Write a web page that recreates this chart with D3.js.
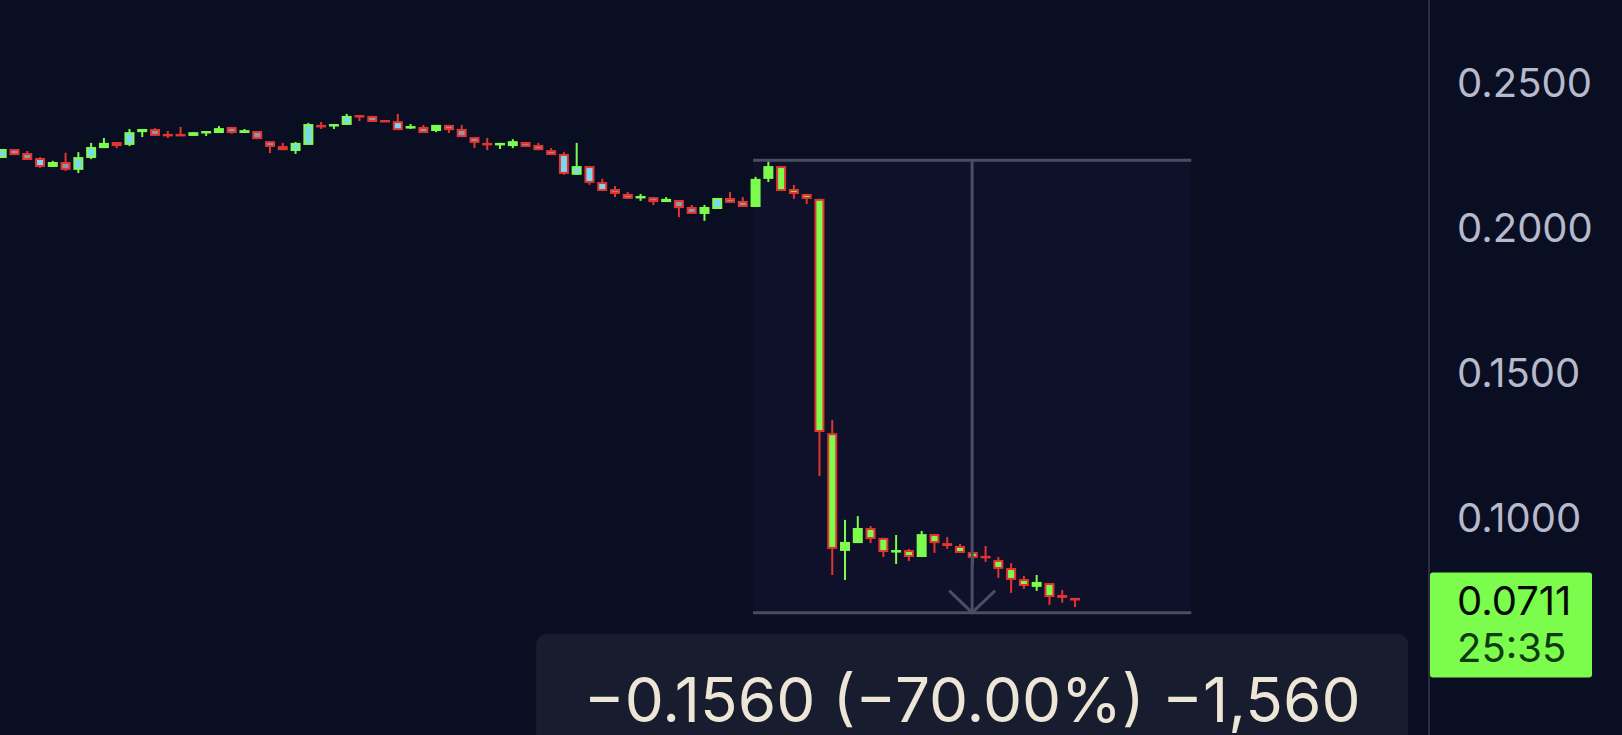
<!DOCTYPE html>
<html>
<head>
<meta charset="utf-8">
<script src="https://cdn.jsdelivr.net/npm/d3@7"></script>
<style>
  html, body { margin: 0; padding: 0; background: #0a0e22; overflow: hidden; }
</style>
</head>
<body>
<div id="chart"></div>
<script>
// candle data (price), one entry per bar
var opens = [0.2237,0.2268,0.2254,0.2237,0.2206,0.2223,0.2196,0.2237,0.2271,0.2292,
  0.2282,0.2326,0.2337,0.2320,0.2320,0.2313,0.2323,0.2323,0.2344,0.2323,
  0.2330,0.2295,0.2278,0.2261,0.2282,0.2351,0.2351,0.2351,0.2385,0.2382,
  0.2368,0.2364,0.2344,0.2344,0.2330,0.2351,0.2337,0.2309,0.2289,0.2282,
  0.2278,0.2292,0.2282,0.2264,0.2251,0.2179,0.2209,0.2154,0.2130,0.2113,
  0.2099,0.2102,0.2085,0.2092,0.2068,0.2044,0.2061,0.2099,0.2089,0.2068,
  0.2165,0.2209,0.2130,0.2113,0.2096,0.1288,0.0882,0.0909,0.0961,0.0927,
  0.0878,0.0885,0.0861,0.0940,0.0909,0.0899,0.0878,0.0865,0.0851,0.0823,
  0.0785,0.0758,0.0771,0.0730,0.0720];
var highs = [0.2268,0.2268,0.2261,0.2240,0.2227,0.2255,0.2257,0.2289,0.2306,0.2292,
  0.2337,0.2337,0.2340,0.2330,0.2344,0.2326,0.2330,0.2347,0.2344,0.2337,
  0.2330,0.2295,0.2289,0.2292,0.2358,0.2361,0.2354,0.2389,0.2385,0.2382,
  0.2368,0.2389,0.2354,0.2351,0.2351,0.2351,0.2351,0.2309,0.2306,0.2289,
  0.2302,0.2292,0.2289,0.2271,0.2257,0.2289,0.2209,0.2165,0.2140,0.2120,
  0.2113,0.2102,0.2102,0.2092,0.2075,0.2075,0.2099,0.2120,0.2102,0.2172,
  0.2226,0.2209,0.2144,0.2113,0.2096,0.1333,0.0989,0.1002,0.0968,0.0927,
  0.0937,0.0889,0.0951,0.0940,0.0930,0.0906,0.0878,0.0899,0.0861,0.0840,
  0.0796,0.0799,0.0771,0.0747,0.0720];
var lows = [0.2237,0.2247,0.2230,0.2203,0.2206,0.2192,0.2185,0.2233,0.2271,0.2271,
  0.2278,0.2309,0.2313,0.2306,0.2313,0.2313,0.2313,0.2323,0.2320,0.2323,
  0.2302,0.2254,0.2264,0.2251,0.2282,0.2337,0.2337,0.2351,0.2364,0.2361,
  0.2364,0.2333,0.2337,0.2323,0.2326,0.2323,0.2309,0.2271,0.2264,0.2268,
  0.2271,0.2275,0.2264,0.2247,0.2179,0.2179,0.2144,0.2123,0.2102,0.2096,
  0.2089,0.2075,0.2085,0.2033,0.2044,0.2020,0.2061,0.2082,0.2068,0.2068,
  0.2154,0.2123,0.2096,0.2078,0.1140,0.0799,0.0782,0.0909,0.0909,0.0861,
  0.0837,0.0847,0.0861,0.0875,0.0889,0.0875,0.0833,0.0844,0.0789,0.0737,
  0.0751,0.0744,0.0696,0.0703,0.0689];
var closes = [0.2268,0.2247,0.2230,0.2206,0.2223,0.2196,0.2240,0.2275,0.2289,0.2278,
  0.2326,0.2337,0.2313,0.2313,0.2313,0.2326,0.2330,0.2340,0.2323,0.2333,
  0.2302,0.2275,0.2264,0.2289,0.2354,0.2344,0.2354,0.2382,0.2378,0.2361,
  0.2364,0.2333,0.2347,0.2323,0.2351,0.2333,0.2309,0.2289,0.2282,0.2289,
  0.2295,0.2275,0.2264,0.2247,0.2182,0.2209,0.2151,0.2123,0.2113,0.2096,
  0.2106,0.2085,0.2096,0.2064,0.2044,0.2068,0.2099,0.2082,0.2068,0.2165,
  0.2209,0.2123,0.2113,0.2096,0.1292,0.0889,0.0913,0.0961,0.0923,0.0878,
  0.0885,0.0861,0.0940,0.0909,0.0899,0.0875,0.0858,0.0858,0.0820,0.0782,
  0.0761,0.0775,0.0723,0.0720,0.0711];

// 0.0500 sits under the last-price label, so only the visible ticks are drawn
var priceTicks = [0.25, 0.2, 0.15, 0.1];
var lastPrice = 0.0711;
var countdown = "25:35";

// measure tool: bar-index range and price range
var measureBars = [58.8, 93.1];
var measurePrices = [0.2229, 0.0669];
var measureText = "\u22120.1560 (\u221270.00%) \u22121,560";

var W = 1622, H = 735;
var axisX = 1429;

var svg = d3.select("#chart").append("svg")
  .attr("width", W).attr("height", H)
  .style("display", "block");

svg.append("rect").attr("width", W).attr("height", H).attr("fill", "#0a0e22");

var x = d3.scaleLinear().domain([0, opens.length - 1]).range([1.7, 1075]);
var y = d3.scaleLinear().domain([0.05, 0.25]).range([661.7, 81.7]);

// measure box background
var mx0 = x(measureBars[0]), mx1 = x(measureBars[1]);
var my0 = y(measurePrices[0]), my1 = y(measurePrices[1]);
var mxc = (mx0 + mx1) / 2;

svg.append("rect")
  .attr("x", mx0).attr("y", my0)
  .attr("width", mx1 - mx0).attr("height", my1 - my0)
  .attr("fill", "#0f1029");

// candles
var green = "#7cfc4c", red = "#e3352f", cyan = "#7fd6f2", grey = "#8e97ab";
var bodyW = 10;

var candles = svg.append("g").selectAll("g")
  .data(d3.range(opens.length))
  .enter().append("g");

candles.append("line")
  .attr("x1", function (i) { return x(i); })
  .attr("x2", function (i) { return x(i); })
  .attr("y1", function (i) { return y(highs[i]); })
  .attr("y2", function (i) { return y(lows[i]); })
  .attr("stroke", function (i) { return closes[i] >= opens[i] ? green : red; })
  .attr("stroke-width", 2);

candles.each(function (i) {
  var g = d3.select(this);
  var up = closes[i] >= opens[i];
  var top = y(Math.max(opens[i], closes[i]));
  var bot = y(Math.min(opens[i], closes[i]));
  var h = Math.max(bot - top, 2.5);
  var cx = x(i);
  var inBox = cx >= mx0;
  g.append("rect")
    .attr("x", cx - bodyW / 2).attr("y", top)
    .attr("width", bodyW).attr("height", h)
    .attr("fill", up ? green : red);
  if (h > 4.5) {
    var inner;
    if (up) inner = (!inBox && h > 7.5) ? cyan : green;
    else inner = inBox ? green : (h > 8.5 ? cyan : grey);
    g.append("rect")
      .attr("x", cx - bodyW / 2 + 2).attr("y", top + 2)
      .attr("width", bodyW - 4).attr("height", h - 4)
      .attr("fill", inner);
  }
});

// measure lines
var lineCol = "#4b4e62";
var meas = svg.append("g").attr("stroke", lineCol).attr("stroke-width", 3).attr("fill", "none");
meas.append("line").attr("x1", mx0).attr("x2", mx1).attr("y1", my0).attr("y2", my0);
meas.append("line").attr("x1", mx0).attr("x2", mx1).attr("y1", my1).attr("y2", my1);
meas.append("line").attr("x1", mxc).attr("x2", mxc).attr("y1", my0).attr("y2", my1);
meas.append("path")
  .attr("d", "M" + (mxc - 23) + "," + (my1 - 22) + "L" + mxc + "," + my1 + "L" + (mxc + 23) + "," + (my1 - 22));

// bottom info panel
svg.append("rect")
  .attr("x", mxc - 436).attr("y", 634)
  .attr("width", 872).attr("height", 130)
  .attr("rx", 10)
  .attr("fill", "#171c2f");

svg.append("text")
  .attr("x", mxc).attr("y", 722)
  .attr("text-anchor", "middle")
  .style("font-family", "Inter, 'Liberation Sans', sans-serif")
  .style("font-size", "62px")
  .attr("fill", "#ede6d6")
  .text(measureText);

// price axis
svg.append("rect").attr("x", axisX + 1).attr("y", 0).attr("width", W - axisX).attr("height", H).attr("fill", "#0a0e22");
svg.append("line")
  .attr("x1", axisX).attr("x2", axisX).attr("y1", 0).attr("y2", H)
  .attr("stroke", "#2a2e40").attr("stroke-width", 2);

var yAxis = svg.append("g")
  .attr("transform", "translate(1457,0)")
  .call(d3.axisRight(y).tickValues(priceTicks).tickFormat(d3.format(".4f")).tickSize(0).tickPadding(0));
yAxis.select(".domain").remove();
yAxis.selectAll("text")
  .attr("text-anchor", "start")
  .attr("dy", "0.36em")
  .style("font-family", "Inter, 'Liberation Sans', sans-serif")
  .style("font-size", "40px")
  .attr("fill", "#b6bacb");

// last price label
var ly = y(lastPrice);
svg.append("rect")
  .attr("x", axisX + 1).attr("y", ly - 28)
  .attr("width", 162).attr("height", 105)
  .attr("rx", 3)
  .attr("fill", green);
svg.append("text")
  .attr("x", 1457).attr("y", ly + 14)
  .style("font-family", "Inter, 'Liberation Sans', sans-serif")
  .style("font-size", "40px")
  .attr("fill", "#050a05")
  .text(d3.format(".4f")(lastPrice));
svg.append("text")
  .attr("x", 1457).attr("y", ly + 61)
  .style("font-family", "Inter, 'Liberation Sans', sans-serif")
  .style("font-size", "40px")
  .attr("fill", "#0d3a10")
  .text(countdown);
</script>
</body>
</html>
